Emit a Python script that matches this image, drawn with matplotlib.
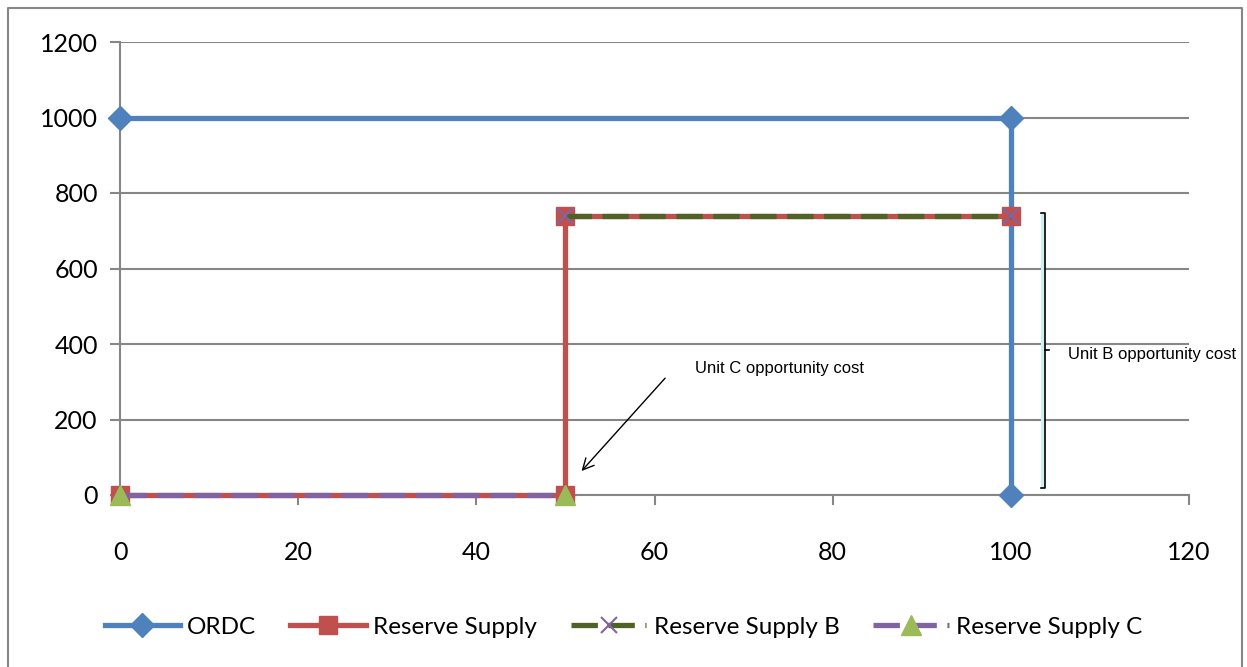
import matplotlib
matplotlib.use("Agg")
import matplotlib.pyplot as plt
from matplotlib.lines import Line2D
from matplotlib.patches import Rectangle

# Operating reserve demand curve and reserve supply steps
ordc_x = [0, 100, 100]
ordc_y = [1000, 1000, 0]

supply_x = [0, 50, 50, 100]
supply_y = [0, 0, 740, 740]

supply_b_x = [50, 100]
supply_b_y = [740, 740]

supply_c_x = [0, 50]
supply_c_y = [0, 0]

x_ticks = [0, 20, 40, 60, 80, 100, 120]
y_ticks = [0, 200, 400, 600, 800, 1000, 1200]

BLUE = "#4F81BD"
RED = "#C0504D"
DKGREEN = "#4F6228"
LTGREEN = "#9BBB59"
PURPLE = "#8064A2"
GRID = "#868686"

W, H = 1247, 667
fig = plt.figure(figsize=(W / 100, H / 100), dpi=100)
ax = fig.add_axes([120 / W, 1 - 495 / H, (1189 - 120) / W, (495 - 42) / H])

ax.plot(ordc_x, ordc_y, color=BLUE, lw=3.8, marker="D", ms=12,
        mfc=BLUE, mec=BLUE, zorder=3, label="ORDC", clip_on=False)
ax.plot(supply_x, supply_y, color=RED, lw=3.8, marker="s", ms=13,
        mfc=RED, mec=RED, zorder=4, label="Reserve Supply", clip_on=False)
ax.plot(supply_b_x, supply_b_y, color=DKGREEN, lw=3.8, ls=(0, (5, 2)),
        marker="x", ms=12, mew=1.5, mec=PURPLE, zorder=5,
        label="Reserve Supply B", clip_on=False)
ax.plot(supply_c_x, supply_c_y, color=PURPLE, lw=3.8, ls=(0, (5, 2)),
        marker="^", ms=14, mfc=LTGREEN, mec=LTGREEN, zorder=5,
        label="Reserve Supply C", clip_on=False)

ax.set_xlim(0, 120)
ax.set_ylim(0, 1200)
ax.set_xticks(x_ticks)
ax.set_yticks(y_ticks)

tick_font = dict(family=["Lato", "DejaVu Sans"], size=18)
ax.set_xticklabels([str(v) for v in x_ticks], **tick_font)
ax.set_yticklabels([str(v) for v in y_ticks], **tick_font)
ax.tick_params(axis="x", length=7, width=1.5, color=GRID, pad=26)
ax.tick_params(axis="y", length=7, width=1.5, color=GRID, pad=9)

ax.grid(axis="y", color=GRID, lw=1.5, zorder=0)
ax.set_axisbelow(True)
for side in ("top", "right"):
    ax.spines[side].set_visible(False)
for side in ("left", "bottom"):
    ax.spines[side].set_color(GRID)
    ax.spines[side].set_linewidth(1.5)

note_font = dict(family=["Liberation Sans", "DejaVu Sans"], size=12)

# Bracket marking unit B's opportunity cost
ax.add_patch(Rectangle((103.4, 18.5), 0.45, 747 - 18.5, facecolor="#CDEFEF",
                       edgecolor="none", clip_on=False, zorder=2))
ax.plot([103.4, 103.84, 103.84, 103.4], [747, 747, 18.5, 18.5],
        color="black", lw=1.2, clip_on=False, zorder=3)
ax.plot([103.84, 104.3], [384, 384], color="black", lw=1.2,
        clip_on=False, zorder=3)
ax.text(106.4, 371, "Unit B opportunity cost", va="center", ha="left",
        clip_on=False, **note_font)

# Arrow pointing at unit C's step
ax.annotate("", xy=(51.6, 58), xytext=(61.4, 315),
            arrowprops=dict(arrowstyle="->", color="black", lw=1.0,
                            mutation_scale=20))
ax.text(64.5, 336, "Unit C opportunity cost", va="center", ha="left",
        **note_font)

# Legend below the plot
handles, labels = ax.get_legend_handles_labels()
leg = fig.legend(handles, labels, loc="center", ncol=4,
                 bbox_to_anchor=(0.5, 1 - 627 / H), frameon=False,
                 prop=dict(family=["Lato", "DejaVu Sans"], size=17.5),
                 handlelength=3.1, handletextpad=0.3, columnspacing=1.4)

# Chart frame
fig.add_artist(Line2D([8 / W, 8 / W, 1242 / W, 1242 / W],
                      [0, 1 - 8 / H, 1 - 8 / H, 0],
                      transform=fig.transFigure, color=GRID, lw=1.5))

fig.savefig("out.png", dpi=100)
